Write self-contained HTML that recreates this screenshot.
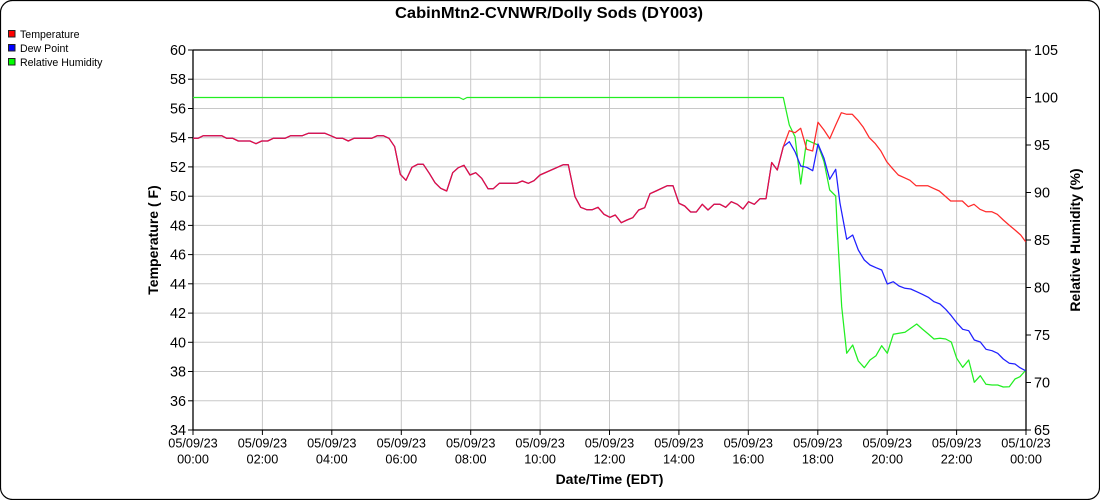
<!DOCTYPE html>
<html><head><meta charset="utf-8"><style>
html,body{margin:0;padding:0;background:#fff;}
svg{display:block;font-family:"Liberation Sans",Arial,sans-serif;}
</style></head><body>
<svg width="1100" height="500" viewBox="0 0 1100 500" xmlns="http://www.w3.org/2000/svg">
<rect x="0.5" y="0.5" width="1099" height="499" rx="12" ry="12" fill="#fff" stroke="#000" stroke-width="1.2"/>
<text x="549" y="18" text-anchor="middle" font-size="16" font-weight="bold" textLength="308" lengthAdjust="spacingAndGlyphs">CabinMtn2-CVNWR/Dolly Sods (DY003)</text>
<!-- legend -->
<g font-size="10.6">
<rect x="8.5" y="30.5" width="6.5" height="6.5" fill="#ff0000" stroke="#222" stroke-width="1"/>
<text x="20" y="38">Temperature</text>
<rect x="8.5" y="44.5" width="6.5" height="6.5" fill="#0000ff" stroke="#222" stroke-width="1"/>
<text x="20" y="52">Dew Point</text>
<rect x="8.5" y="58.5" width="6.5" height="6.5" fill="#00ff00" stroke="#222" stroke-width="1"/>
<text x="20" y="66">Relative Humidity</text>
</g>
<!-- grid -->
<g stroke="#c8c8c8" stroke-width="1">
<line x1="193" y1="79.2" x2="1026" y2="79.2"/>
<line x1="193" y1="108.5" x2="1026" y2="108.5"/>
<line x1="193" y1="137.7" x2="1026" y2="137.7"/>
<line x1="193" y1="166.9" x2="1026" y2="166.9"/>
<line x1="193" y1="196.2" x2="1026" y2="196.2"/>
<line x1="193" y1="225.4" x2="1026" y2="225.4"/>
<line x1="193" y1="254.6" x2="1026" y2="254.6"/>
<line x1="193" y1="283.8" x2="1026" y2="283.8"/>
<line x1="193" y1="313.1" x2="1026" y2="313.1"/>
<line x1="193" y1="342.3" x2="1026" y2="342.3"/>
<line x1="193" y1="371.5" x2="1026" y2="371.5"/>
<line x1="193" y1="400.8" x2="1026" y2="400.8"/>
<line x1="262.4" y1="50" x2="262.4" y2="430"/>
<line x1="331.8" y1="50" x2="331.8" y2="430"/>
<line x1="401.3" y1="50" x2="401.3" y2="430"/>
<line x1="470.7" y1="50" x2="470.7" y2="430"/>
<line x1="540.1" y1="50" x2="540.1" y2="430"/>
<line x1="609.5" y1="50" x2="609.5" y2="430"/>
<line x1="678.9" y1="50" x2="678.9" y2="430"/>
<line x1="748.3" y1="50" x2="748.3" y2="430"/>
<line x1="817.8" y1="50" x2="817.8" y2="430"/>
<line x1="887.2" y1="50" x2="887.2" y2="430"/>
<line x1="956.6" y1="50" x2="956.6" y2="430"/>
</g>
<!-- axes -->
<g stroke="#000" stroke-width="1.3" fill="none">
<line x1="193" y1="50" x2="1026" y2="50"/>
<line x1="193" y1="50" x2="193" y2="430"/>
<line x1="1026" y1="50" x2="1026" y2="430"/>
<line x1="193" y1="430" x2="1026" y2="430"/>
</g>
<g stroke="#000" stroke-width="1">
<line x1="188" y1="50" x2="193" y2="50"/><line x1="188" y1="79.2" x2="193" y2="79.2"/><line x1="188" y1="108.5" x2="193" y2="108.5"/><line x1="188" y1="137.7" x2="193" y2="137.7"/><line x1="188" y1="166.9" x2="193" y2="166.9"/><line x1="188" y1="196.2" x2="193" y2="196.2"/><line x1="188" y1="225.4" x2="193" y2="225.4"/><line x1="188" y1="254.6" x2="193" y2="254.6"/><line x1="188" y1="283.8" x2="193" y2="283.8"/><line x1="188" y1="313.1" x2="193" y2="313.1"/><line x1="188" y1="342.3" x2="193" y2="342.3"/><line x1="188" y1="371.5" x2="193" y2="371.5"/><line x1="188" y1="400.8" x2="193" y2="400.8"/><line x1="188" y1="430" x2="193" y2="430"/>
<line x1="1026" y1="50" x2="1031" y2="50"/><line x1="1026" y1="97.5" x2="1031" y2="97.5"/><line x1="1026" y1="145" x2="1031" y2="145"/><line x1="1026" y1="192.5" x2="1031" y2="192.5"/><line x1="1026" y1="240" x2="1031" y2="240"/><line x1="1026" y1="287.5" x2="1031" y2="287.5"/><line x1="1026" y1="335" x2="1031" y2="335"/><line x1="1026" y1="382.5" x2="1031" y2="382.5"/><line x1="1026" y1="430" x2="1031" y2="430"/>
<line x1="193" y1="430" x2="193" y2="435"/><line x1="262.4" y1="430" x2="262.4" y2="435"/><line x1="331.8" y1="430" x2="331.8" y2="435"/><line x1="401.3" y1="430" x2="401.3" y2="435"/><line x1="470.7" y1="430" x2="470.7" y2="435"/><line x1="540.1" y1="430" x2="540.1" y2="435"/><line x1="609.5" y1="430" x2="609.5" y2="435"/><line x1="678.9" y1="430" x2="678.9" y2="435"/><line x1="748.3" y1="430" x2="748.3" y2="435"/><line x1="817.8" y1="430" x2="817.8" y2="435"/><line x1="887.2" y1="430" x2="887.2" y2="435"/><line x1="956.6" y1="430" x2="956.6" y2="435"/><line x1="1026" y1="430" x2="1026" y2="435"/>
</g>
<!-- left labels -->
<g font-size="14.4" text-anchor="end">
<text x="186" y="55">60</text><text x="186" y="84.2">58</text><text x="186" y="113.5">56</text><text x="186" y="142.7">54</text><text x="186" y="171.9">52</text><text x="186" y="201.2">50</text><text x="186" y="230.4">48</text><text x="186" y="259.6">46</text><text x="186" y="288.8">44</text><text x="186" y="318.1">42</text><text x="186" y="347.3">40</text><text x="186" y="376.5">38</text><text x="186" y="405.8">36</text><text x="186" y="435">34</text>
</g>
<g font-size="14.4" text-anchor="start">
<text x="1034" y="55">105</text><text x="1034" y="102.5">100</text><text x="1034" y="150">95</text><text x="1034" y="197.5">90</text><text x="1034" y="245">85</text><text x="1034" y="292.5">80</text><text x="1034" y="340">75</text><text x="1034" y="387.5">70</text><text x="1034" y="435">65</text>
</g>
<g font-size="12.7" text-anchor="middle">
<text x="193" y="447.5">05/09/23</text><text x="193" y="463.5">00:00</text>
<text x="262.4" y="447.5">05/09/23</text><text x="262.4" y="463.5">02:00</text>
<text x="331.8" y="447.5">05/09/23</text><text x="331.8" y="463.5">04:00</text>
<text x="401.3" y="447.5">05/09/23</text><text x="401.3" y="463.5">06:00</text>
<text x="470.7" y="447.5">05/09/23</text><text x="470.7" y="463.5">08:00</text>
<text x="540.1" y="447.5">05/09/23</text><text x="540.1" y="463.5">10:00</text>
<text x="609.5" y="447.5">05/09/23</text><text x="609.5" y="463.5">12:00</text>
<text x="678.9" y="447.5">05/09/23</text><text x="678.9" y="463.5">14:00</text>
<text x="748.3" y="447.5">05/09/23</text><text x="748.3" y="463.5">16:00</text>
<text x="817.8" y="447.5">05/09/23</text><text x="817.8" y="463.5">18:00</text>
<text x="887.2" y="447.5">05/09/23</text><text x="887.2" y="463.5">20:00</text>
<text x="956.6" y="447.5">05/09/23</text><text x="956.6" y="463.5">22:00</text>
<text x="1026" y="447.5">05/10/23</text><text x="1026" y="463.5">00:00</text>
</g>
<text x="609.5" y="484" font-size="14" font-weight="bold" text-anchor="middle">Date/Time (EDT)</text>
<text transform="translate(158,240) rotate(-90)" font-size="14" font-weight="bold" text-anchor="middle">Temperature ( F)</text>
<text transform="translate(1080,240) rotate(-90)" font-size="14" font-weight="bold" text-anchor="middle">Relative Humidity (%)</text>
<!-- series -->
<g fill="none" stroke-width="1.25" stroke-linejoin="round">
<polyline stroke="#22ee22" points="193,97.5 459.3,97.5 463.3,99.5 467,97.5 783.3,97.5 789.3,125 795,136.7 800.7,184 806.7,140 812.7,142.7 818,145 824,161.7 829.7,190 835.7,196 837.3,230 841.7,306.7 846.7,353.3 852.7,345 858.3,361 864.3,367.7 870,360 876,355.7 881.7,345.7 887.3,353.3 893.3,334.3 899,333.3 905,332.3 910.7,328.3 916.7,324 922.3,329 928.3,334 934,339 940,338.3 945.7,339 951.3,342 956.7,358.3 962.7,367.3 968.7,360 974.3,382.3 980.3,375.7 986,384.3 992,385 997.7,385 1003.3,387 1009.3,386.7 1015,379 1020,376.7 1025.5,370.5"/>
<polyline id="shared" stroke="#2020ff" points="193,138.3 198,138.3 203.3,135.7 221.7,135.7 226.7,138.3 232.7,138.3 238.3,141 250,141 256,143.7 261.7,141 267.7,141 273.3,138.3 285,138.3 290.7,135.7 302.3,135.7 308.3,133.3 325,133.3 330.7,135.7 336.7,138.3 342.7,138.3 348.3,141 354,138.3 371.7,138.3 377.3,135.7 383.3,135.7 389,138.3 394.7,146.7 400.3,174.3 406,180.3 412,167.3 417.7,164.3 423.3,164.3 429.3,173.3 435,182.7 440.7,188.3 446.7,191 452.7,172.7 458.3,167.7 464,165.3 470,175 475.7,172.7 481.7,178.3 488,188.7 493.3,188.7 499.3,183.3 516.7,183.3 522.3,181 528.3,183.3 534,180.7 540,175 563.3,164.7 568.3,164.7 575,196.7 580.7,207.3 586.7,209.7 592.3,209.7 598,207.3 604,214.3 610,217.3 615.3,215 621.3,222.7 627,220 632.7,217.7 638.7,210 644.7,207.7 650,193.7 656,191 667.3,185.7 673,185.7 679,203.3 684.7,206 690.7,212 696.3,212 702.3,204.3 708,210 714,204.3 720,204.3 725.7,207.3 731.3,201.7 737.3,204.3 743,209 748.5,201.7 754.3,204.3 760,198.7 766,198.7 771.7,162.5 777.3,170 783.3,146.7"/>
<polyline stroke="#2020ff" points="783.3,146.7 789.3,141.7 795,151.7 800.7,166 806.7,167.3 812.7,170.7 818,144 824,158.3 829.7,179.3 835.7,169.3 840,203.3 845,230 846.7,239.3 852.7,235 858.3,250 864.3,260 870,265 876,267.7 881.7,270 887.3,284 893.3,281.7 899,286 905,288.3 910.7,289 916.7,291.7 922.3,294.3 928.3,297.3 934,301.7 940,304 945.7,309.3 951.3,315.7 956.7,322.7 962.7,329.3 968.7,330.7 974.3,340 980.3,342 986,349.3 992,350.7 997.7,353.3 1003.3,359 1009.3,363.3 1015,364 1020,367.7 1025.5,370.7"/>
<polyline stroke="#e8103c" points="193,138.3 198,138.3 203.3,135.7 221.7,135.7 226.7,138.3 232.7,138.3 238.3,141 250,141 256,143.7 261.7,141 267.7,141 273.3,138.3 285,138.3 290.7,135.7 302.3,135.7 308.3,133.3 325,133.3 330.7,135.7 336.7,138.3 342.7,138.3 348.3,141 354,138.3 371.7,138.3 377.3,135.7 383.3,135.7 389,138.3 394.7,146.7 400.3,174.3 406,180.3 412,167.3 417.7,164.3 423.3,164.3 429.3,173.3 435,182.7 440.7,188.3 446.7,191 452.7,172.7 458.3,167.7 464,165.3 470,175 475.7,172.7 481.7,178.3 488,188.7 493.3,188.7 499.3,183.3 516.7,183.3 522.3,181 528.3,183.3 534,180.7 540,175 563.3,164.7 568.3,164.7 575,196.7 580.7,207.3 586.7,209.7 592.3,209.7 598,207.3 604,214.3 610,217.3 615.3,215 621.3,222.7 627,220 632.7,217.7 638.7,210 644.7,207.7 650,193.7 656,191 667.3,185.7 673,185.7 679,203.3 684.7,206 690.7,212 696.3,212 702.3,204.3 708,210 714,204.3 720,204.3 725.7,207.3 731.3,201.7 737.3,204.3 743,209 748.5,201.7 754.3,204.3 760,198.7 766,198.7 771.7,162.5 777.3,170 783.3,146.7"/>
<polyline stroke="#ff2a2a" points="783.3,146.7 789.3,130.7 795,132.7 800.7,128.3 806.7,149.3 812.7,151 818,122.3 824,130 829.7,138.7 835.5,125.5 841.3,112.7 846.7,114.3 852.3,114.3 858.3,120.7 863.3,127.3 869.3,137.7 875,143.3 880.7,150.7 886.7,161.7 892.3,168.3 898.3,175 904.3,177.7 910,180.3 916,185.7 927.7,185.7 933.3,188.3 939.3,191 945,196 950.7,201 962.3,201 968.3,206.7 974,204.3 980,209.3 985.7,211.7 991.7,211.7 997.3,214.3 1003.3,220 1009,225 1015,230 1020.7,235 1025.7,241.7"/>
</g>
</svg>
</body></html>
